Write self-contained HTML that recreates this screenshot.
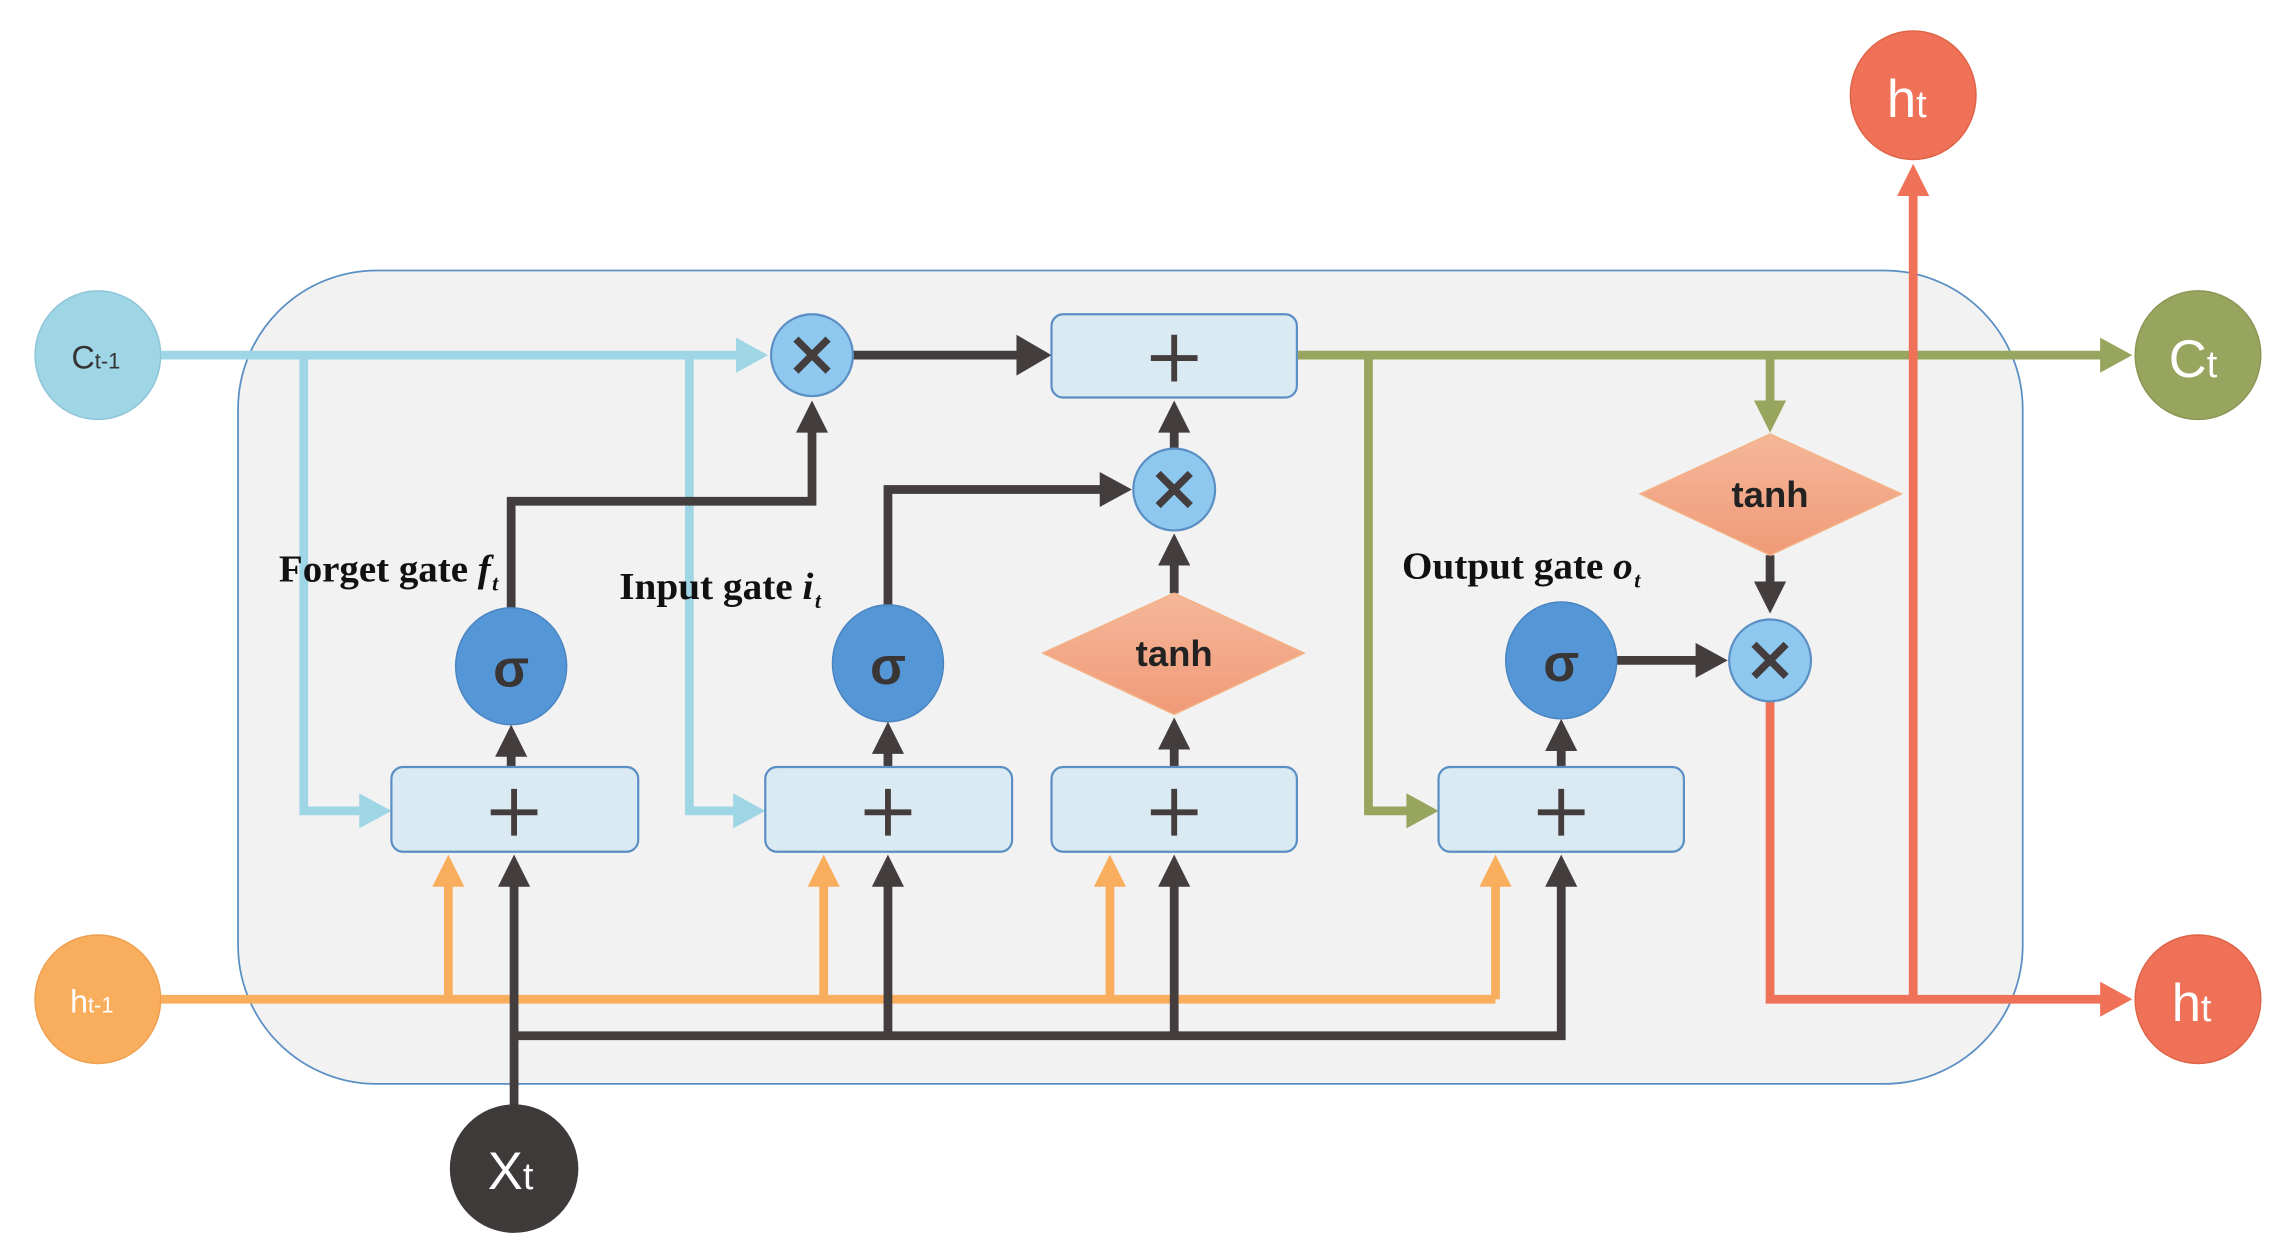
<!DOCTYPE html>
<html><head><meta charset="utf-8"><style>html,body{margin:0;padding:0;background:#fff}svg{display:block}</style></head>
<body>
<svg width="2271" height="1258" viewBox="0 0 1555 861" xmlns="http://www.w3.org/2000/svg" font-family="Liberation Sans, sans-serif">
<rect x="163" y="185" width="1222" height="557" rx="95" fill="#f2f2f2" stroke="#5b8fc4" stroke-width="1.2"/>
<g fill="none" stroke-width="6" stroke-linejoin="miter">
<path d="M110 243 H506 M208 243 V555 H248 M472 243 V555 H504" stroke="#9fd6e6"/>
<path d="M888 243 H1440 M937 243 V555 H965 M1212 243 V276" stroke="#98a55f"/>
<path d="M110 684 H1024 M307 684 V605 M564 684 V605 M760 684 V605 M1024 684 V605" stroke="#f9ae5e"/>
<path d="M1212 480 V684 H1440 M1310 684 V132" stroke="#ef7157"/>
<path d="M352 760 V605 M352 709 H1069 V605 M608 709 V605 M804 709 V605 M584 243 H698 M350 418 V343 H556 V294 M608 415 V335 H755 M350 525 V516 M608 525 V514 M804 525 V511 M804 406 V385 M804 307 V294 M1212 380 V400 M1107 452 H1163 M1069 525 V512" stroke="#433d3d"/>
</g>
<g fill="#9fd6e6"><polygon points="504,231 526,243 504,255"/><polygon points="246,543 268,555 246,567"/><polygon points="502,543 524,555 502,567"/></g>
<g fill="#98a55f"><polygon points="1438,231 1460,243 1438,255"/><polygon points="963,543 985,555 963,567"/><polygon points="1201,274 1212,296 1223,274"/></g>
<g fill="#f9ae5e"><polygon points="296,607 307,585 318,607"/><polygon points="553,607 564,585 575,607"/><polygon points="749,607 760,585 771,607"/><polygon points="1013,607 1024,585 1035,607"/></g>
<g fill="#ef7157"><polygon points="1438,672 1460,684 1438,696"/><polygon points="1299,134 1310,112 1321,134"/></g>
<g fill="#433d3d">
<polygon points="341,607 352,585 363,607"/><polygon points="597,607 608,585 619,607"/><polygon points="793,607 804,585 815,607"/><polygon points="1058,607 1069,585 1080,607"/>
<polygon points="339,518 350,496 361,518"/><polygon points="597,516 608,494 619,516"/><polygon points="793,513 804,491 815,513"/><polygon points="1058,514 1069,492 1080,514"/>
<polygon points="793,387 804,365 815,387"/><polygon points="793,296 804,274 815,296"/><polygon points="545,296 556,274 567,296"/>
<polygon points="696,229 720,243 696,257"/><polygon points="753,323 775,335 753,347"/><polygon points="1161,440 1183,452 1161,464"/><polygon points="1201,398 1212,420 1223,398"/>
</g>
<g fill="#daeaf2" stroke="#5b8fc4" stroke-width="1.5">
<rect x="720" y="215" width="168" height="57" rx="8"/>
<rect x="268" y="525" width="169" height="58" rx="8"/>
<rect x="524" y="525" width="169" height="58" rx="8"/>
<rect x="720" y="525" width="168" height="58" rx="8"/>
<rect x="985" y="525" width="168" height="58" rx="8"/>
</g>
<g stroke="#433d3d" stroke-width="4">
<path d="M788 245 H820 M804 229 V261"/>
<path d="M336 556 H368 M352 540 V572"/>
<path d="M592 556 H624 M608 540 V572"/>
<path d="M788 556 H820 M804 540 V572"/>
<path d="M1053 556 H1085 M1069 540 V572"/>
</g>
<defs><linearGradient id="g" x1="0" y1="0" x2="0" y2="1"><stop offset="0" stop-color="#f5b79a"/><stop offset="1" stop-color="#f09a78"/></linearGradient></defs>
<polygon points="714,447 804,406 893,447 804,489" fill="url(#g)" stroke="#f4b183" stroke-width="1"/>
<polygon points="1123,338 1212,297 1302,338 1212,380" fill="url(#g)" stroke="#f4b183" stroke-width="1"/>
<g font-weight="bold" font-size="25" fill="#222" text-anchor="middle"><text x="804" y="456">tanh</text><text x="1212" y="347">tanh</text></g>
<g fill="#8ec8ef" stroke="#5b8fc4" stroke-width="1.5"><circle cx="556" cy="243" r="28"/><circle cx="804" cy="335" r="28"/><circle cx="1212" cy="452" r="28"/></g>
<g stroke="#433d3d" stroke-width="5"><path d="M545 232 L567 254 M567 232 L545 254"/><path d="M793 324 L815 346 M815 324 L793 346"/><path d="M1201 441 L1223 463 M1223 441 L1201 463"/></g>
<g fill="#5596d6" stroke="#4a85c2" stroke-width="1"><ellipse cx="350" cy="456" rx="38" ry="40"/><ellipse cx="608" cy="454" rx="38" ry="40"/><ellipse cx="1069" cy="452" rx="38" ry="40"/></g>
<g fill="#3a3535" font-weight="bold" font-size="36" text-anchor="middle"><text x="350" y="470">σ</text><text x="608" y="468">σ</text><text x="1069" y="466">σ</text></g>
<ellipse cx="67" cy="243" rx="43" ry="44" fill="#9fd6e6" stroke="#8fc4d8"/>
<ellipse cx="67" cy="684" rx="43" ry="44" fill="#f9ae5e" stroke="#eea050"/>
<ellipse cx="352" cy="800" rx="44" ry="44" fill="#3f3a3a"/>
<ellipse cx="1505" cy="243" rx="43" ry="44" fill="#98a55f" stroke="#8a9655"/>
<ellipse cx="1505" cy="684" rx="43" ry="44" fill="#ef7157" stroke="#de6448"/>
<ellipse cx="1310" cy="65" rx="43" ry="44" fill="#ef7157" stroke="#de6448"/>
<text x="49" y="252" font-size="22" fill="#333">C<tspan font-size="15">t-1</tspan></text>
<text x="48" y="693" font-size="22" fill="#fff">h<tspan font-size="15">t-1</tspan></text>
<text x="334" y="814" font-size="36" fill="#fff">X<tspan font-size="26">t</tspan></text>
<text x="1485" y="258" font-size="36" fill="#fff">C<tspan font-size="26">t</tspan></text>
<text x="1487" y="699" font-size="36" fill="#fff">h<tspan font-size="26">t</tspan></text>
<text x="1292" y="80" font-size="36" fill="#fff">h<tspan font-size="26">t</tspan></text>
<g font-family="Liberation Serif, serif" font-weight="bold" font-size="26" fill="#111">
<text x="191" y="398" textLength="145" lengthAdjust="spacingAndGlyphs">Forget gate <tspan font-style="italic">f</tspan></text>
<text x="337" y="404" font-size="15" font-style="italic">t</text>
<text x="424" y="410" textLength="133" lengthAdjust="spacingAndGlyphs">Input  gate <tspan font-style="italic">i</tspan></text>
<text x="558" y="416" font-size="15" font-style="italic">t</text>
<text x="960" y="396" textLength="158" lengthAdjust="spacingAndGlyphs">Output  gate <tspan font-style="italic">o</tspan></text>
<text x="1119" y="402" font-size="15" font-style="italic">t</text>
</g>
</svg>
</body></html>
